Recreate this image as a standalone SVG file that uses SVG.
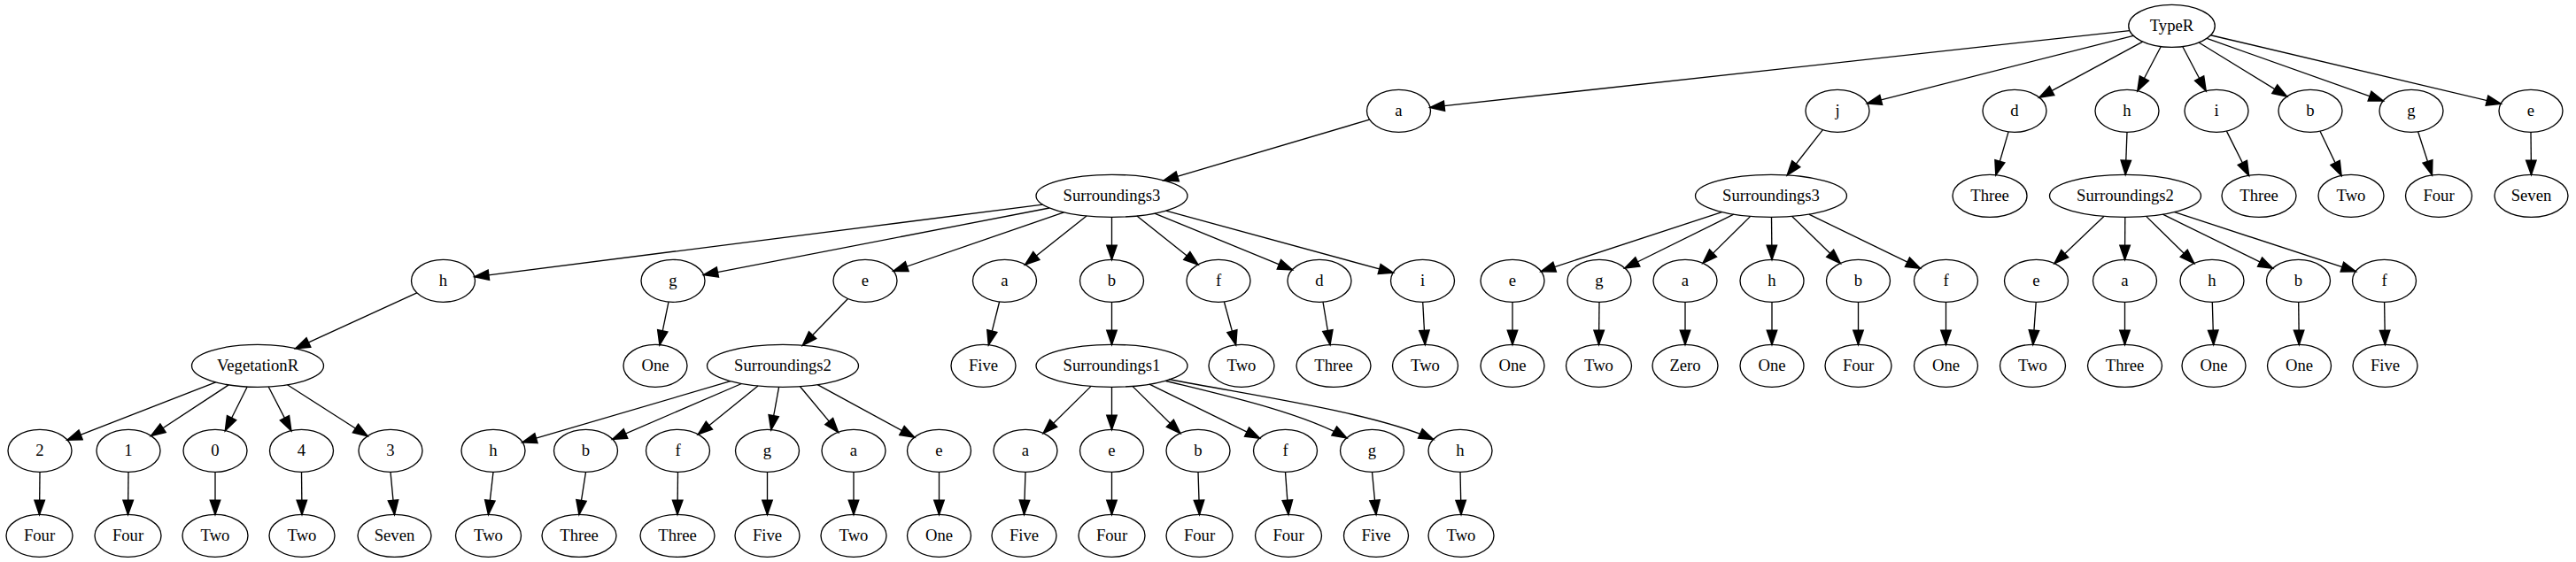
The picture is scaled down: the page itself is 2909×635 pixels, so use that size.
<svg xmlns="http://www.w3.org/2000/svg" width="2909" height="635" viewBox="0 0 2909 635">
<style>
.node ellipse{fill:none;stroke:#000;stroke-width:1.33}
.node text{font-family:"Liberation Serif","Times New Roman",serif;font-size:18.67px;text-anchor:middle;fill:#000}
#edges path{fill:none;stroke:#000;stroke-width:1.33;marker-end:url(#ah)}
</style>
<defs>
<marker id="ah" markerUnits="userSpaceOnUse" markerWidth="16" markerHeight="12" viewBox="0 0 13.33 9.33" refX="13.33" refY="4.67" orient="auto" overflow="visible">
<path d="M0,0 L13.33,4.67 L0,9.33 Z" fill="#000" stroke="#000" stroke-width="1.33"/>
</marker>
</defs>
<rect width="2909" height="635" fill="#fff"/>
<g id="edges">
<path d="M2404.9,34.56 L1615.0,121.4"/>
<path d="M2409.2,40.34 L2108.6,116.8"/>
<path d="M2419.7,47.08 L2303.0,110.2"/>
<path d="M2440.3,52.56 L2413.9,102.7"/>
<path d="M2464.7,52.56 L2491.1,102.7"/>
<path d="M2483.0,48.05 L2582.5,109.1"/>
<path d="M2492.1,43.37 L2691.2,114.05"/>
<path d="M2496.4,39.73 L2824.1,117.3"/>
<path d="M1546.6,135.1 L1314.3,203.9"/>
<path d="M2058.4,146.6 L2018.3,197.9"/>
<path d="M2268.1,148.9 L2253.9,197.7"/>
<path d="M2402,149.33 L2400.2,197.33"/>
<path d="M2514.4,148.1 L2539.5,198.25"/>
<path d="M2620.0,148.2 L2644.0,198.4"/>
<path d="M2730.6,148.8 L2746.4,197.8"/>
<path d="M2858,149.33 L2858.5,197.33"/>
<path d="M1177.6,231.2 L535.9,312.8"/>
<path d="M1185.1,235.0 L794.6,310.6"/>
<path d="M1201.5,239.9 L1009.0,306.3"/>
<path d="M1227.0,244.0 L1157.7,299.0"/>
<path d="M1255.5,245.33 L1255.5,293.33"/>
<path d="M1283.9,244.0 L1352.9,298.9"/>
<path d="M1303.9,241.1 L1459.3,304.8"/>
<path d="M1316.7,238.1 L1573.2,308.2"/>
<path d="M1944.5,239.6 L1740.3,306.7"/>
<path d="M1957.8,242.2 L1834.9,303.0"/>
<path d="M1976.7,244.4 L1923.1,297.4"/>
<path d="M2000.5,245.33 L2001,293.33"/>
<path d="M2023.7,244.4 L2078.2,297.5"/>
<path d="M2042.8,242.1 L2168.4,303.2"/>
<path d="M2375.9,244.4 L2320.1,297.65"/>
<path d="M2399.8,245.33 L2399.5,293.33"/>
<path d="M2423.6,244.4 L2477.7,297.5"/>
<path d="M2442.4,242.2 L2566.5,303.1"/>
<path d="M2455.6,239.6 L2660.2,306.7"/>
<path d="M470.8,330.9 L333.8,393.7"/>
<path d="M755.0,341.1 L745.0,389.6"/>
<path d="M957.5,337.5 L906.4,390.2"/>
<path d="M1128.6,341.0 L1116.4,389.7"/>
<path d="M1255.5,341.33 L1255.5,389.33"/>
<path d="M1382.4,341.0 L1395.6,389.7"/>
<path d="M1494.0,341.2 L1502.0,389.4"/>
<path d="M1606.7,341.33 L1609.3,389.33"/>
<path d="M1708,341.33 L1708,389.33"/>
<path d="M1806,341.33 L1805.5,389.33"/>
<path d="M1903,341.33 L1903,389.33"/>
<path d="M2001,341.33 L2001,389.33"/>
<path d="M2098.5,341.33 L2098.5,389.33"/>
<path d="M2197.5,341.33 L2197.5,389.33"/>
<path d="M2299.2,341.33 L2295.8,389.33"/>
<path d="M2399.5,341.33 L2399.5,389.33"/>
<path d="M2498.3,341.33 L2499.7,389.33"/>
<path d="M2595.7,341.33 L2596.3,389.33"/>
<path d="M2692.6,341.33 L2693.4,389.33"/>
<path d="M243.6,431.8 L76.1,497.2"/>
<path d="M258.2,434.9 L170.6,492.5"/>
<path d="M279.2,437.0 L254.4,486.6"/>
<path d="M303.2,437.0 L328.8,486.6"/>
<path d="M324.5,434.8 L415.0,492.7"/>
<path d="M824.9,430.7 L590.0,499.7"/>
<path d="M837.4,433.5 L691.7,496.3"/>
<path d="M856.0,436.0 L788.4,490.8"/>
<path d="M879.6,437.3 L870.8,485.5"/>
<path d="M903.5,436.7 L946.5,488.35"/>
<path d="M923.2,434.7 L1032.6,494.2"/>
<path d="M1232.1,436.4 L1178.2,489.5"/>
<path d="M1255.5,437.33 L1255.5,485.33"/>
<path d="M1278.9,436.4 L1332.8,489.5"/>
<path d="M1298.0,434.2 L1422.5,495.1"/>
<path d="M1316.5,430.5 C1380,446 1470,466 1520.7,494.9"/>
<path d="M1320,428.5 C1420,448 1550,466 1618.6,496.4"/>
<path d="M45,533.33 L44.5,581.33"/>
<path d="M145,533.33 L144.5,581.33"/>
<path d="M243,533.33 L243,581.33"/>
<path d="M340.5,533.33 L341,581.33"/>
<path d="M441,533.33 L445.5,581.33"/>
<path d="M557,533.33 L551.5,581.33"/>
<path d="M661.5,533.33 L654,581.33"/>
<path d="M765.5,533.33 L765,581.33"/>
<path d="M866.5,533.33 L866.5,581.33"/>
<path d="M964,533.33 L964,581.33"/>
<path d="M1060.5,533.33 L1060.5,581.33"/>
<path d="M1158,533.33 L1156.5,581.33"/>
<path d="M1255.5,533.33 L1255.5,581.33"/>
<path d="M1353,533.33 L1354.5,581.33"/>
<path d="M1451.5,533.33 L1455,581.33"/>
<path d="M1549.5,533.33 L1554,581.33"/>
<path d="M1649,533.33 L1650,581.33"/>
</g>
<g id="n0" class="node"><ellipse cx="2452.5" cy="29.33" rx="48.75" ry="24"/><text x="2452.5" y="34.93">TypeR</text></g>
<g id="n1" class="node"><ellipse cx="1579.5" cy="125.33" rx="36" ry="24"/><text x="1579.5" y="130.93">a</text></g>
<g id="n2" class="node"><ellipse cx="2075" cy="125.33" rx="36" ry="24"/><text x="2075" y="130.93">j</text></g>
<g id="n3" class="node"><ellipse cx="2275" cy="125.33" rx="36" ry="24"/><text x="2275" y="130.93">d</text></g>
<g id="n4" class="node"><ellipse cx="2402" cy="125.33" rx="36" ry="24"/><text x="2402" y="130.93">h</text></g>
<g id="n5" class="node"><ellipse cx="2503" cy="125.33" rx="36" ry="24"/><text x="2503" y="130.93">i</text></g>
<g id="n6" class="node"><ellipse cx="2609" cy="125.33" rx="36" ry="24"/><text x="2609" y="130.93">b</text></g>
<g id="n7" class="node"><ellipse cx="2723" cy="125.33" rx="36" ry="24"/><text x="2723" y="130.93">g</text></g>
<g id="n8" class="node"><ellipse cx="2858" cy="125.33" rx="36" ry="24"/><text x="2858" y="130.93">e</text></g>
<g id="n9" class="node"><ellipse cx="1255.5" cy="221.33" rx="85.5" ry="24"/><text x="1255.5" y="226.93">Surroundings3</text></g>
<g id="n10" class="node"><ellipse cx="2000" cy="221.33" rx="85.5" ry="24"/><text x="2000" y="226.93">Surroundings3</text></g>
<g id="n11" class="node"><ellipse cx="2247" cy="221.33" rx="42" ry="24"/><text x="2247" y="226.93">Three</text></g>
<g id="n12" class="node"><ellipse cx="2400" cy="221.33" rx="85.5" ry="24"/><text x="2400" y="226.93">Surroundings2</text></g>
<g id="n13" class="node"><ellipse cx="2551" cy="221.33" rx="42" ry="24"/><text x="2551" y="226.93">Three</text></g>
<g id="n14" class="node"><ellipse cx="2655" cy="221.33" rx="37" ry="24"/><text x="2655" y="226.93">Two</text></g>
<g id="n15" class="node"><ellipse cx="2754" cy="221.33" rx="37.5" ry="24"/><text x="2754" y="226.93">Four</text></g>
<g id="n16" class="node"><ellipse cx="2858.5" cy="221.33" rx="41.5" ry="24"/><text x="2858.5" y="226.93">Seven</text></g>
<g id="n17" class="node"><ellipse cx="500.5" cy="317.33" rx="36" ry="24"/><text x="500.5" y="322.93">h</text></g>
<g id="n18" class="node"><ellipse cx="760" cy="317.33" rx="36" ry="24"/><text x="760" y="322.93">g</text></g>
<g id="n19" class="node"><ellipse cx="977" cy="317.33" rx="36" ry="24"/><text x="977" y="322.93">e</text></g>
<g id="n20" class="node"><ellipse cx="1134.5" cy="317.33" rx="36" ry="24"/><text x="1134.5" y="322.93">a</text></g>
<g id="n21" class="node"><ellipse cx="1255.5" cy="317.33" rx="36" ry="24"/><text x="1255.5" y="322.93">b</text></g>
<g id="n22" class="node"><ellipse cx="1376" cy="317.33" rx="36" ry="24"/><text x="1376" y="322.93">f</text></g>
<g id="n23" class="node"><ellipse cx="1490" cy="317.33" rx="36" ry="24"/><text x="1490" y="322.93">d</text></g>
<g id="n24" class="node"><ellipse cx="1606.5" cy="317.33" rx="36" ry="24"/><text x="1606.5" y="322.93">i</text></g>
<g id="n25" class="node"><ellipse cx="1708" cy="317.33" rx="36" ry="24"/><text x="1708" y="322.93">e</text></g>
<g id="n26" class="node"><ellipse cx="1806" cy="317.33" rx="36" ry="24"/><text x="1806" y="322.93">g</text></g>
<g id="n27" class="node"><ellipse cx="1903" cy="317.33" rx="36" ry="24"/><text x="1903" y="322.93">a</text></g>
<g id="n28" class="node"><ellipse cx="2001" cy="317.33" rx="36" ry="24"/><text x="2001" y="322.93">h</text></g>
<g id="n29" class="node"><ellipse cx="2098.5" cy="317.33" rx="36" ry="24"/><text x="2098.5" y="322.93">b</text></g>
<g id="n30" class="node"><ellipse cx="2197.5" cy="317.33" rx="36" ry="24"/><text x="2197.5" y="322.93">f</text></g>
<g id="n31" class="node"><ellipse cx="2299.5" cy="317.33" rx="36" ry="24"/><text x="2299.5" y="322.93">e</text></g>
<g id="n32" class="node"><ellipse cx="2399.5" cy="317.33" rx="36" ry="24"/><text x="2399.5" y="322.93">a</text></g>
<g id="n33" class="node"><ellipse cx="2498" cy="317.33" rx="36" ry="24"/><text x="2498" y="322.93">h</text></g>
<g id="n34" class="node"><ellipse cx="2595.5" cy="317.33" rx="36" ry="24"/><text x="2595.5" y="322.93">b</text></g>
<g id="n35" class="node"><ellipse cx="2692.5" cy="317.33" rx="36" ry="24"/><text x="2692.5" y="322.93">f</text></g>
<g id="n36" class="node"><ellipse cx="291" cy="413.33" rx="74.5" ry="24"/><text x="291" y="418.93">VegetationR</text></g>
<g id="n37" class="node"><ellipse cx="740" cy="413.33" rx="36" ry="24"/><text x="740" y="418.93">One</text></g>
<g id="n38" class="node"><ellipse cx="884" cy="413.33" rx="85.5" ry="24"/><text x="884" y="418.93">Surroundings2</text></g>
<g id="n39" class="node"><ellipse cx="1110.5" cy="413.33" rx="36.5" ry="24"/><text x="1110.5" y="418.93">Five</text></g>
<g id="n40" class="node"><ellipse cx="1255.5" cy="413.33" rx="85.5" ry="24"/><text x="1255.5" y="418.93">Surroundings1</text></g>
<g id="n41" class="node"><ellipse cx="1402" cy="413.33" rx="37" ry="24"/><text x="1402" y="418.93">Two</text></g>
<g id="n42" class="node"><ellipse cx="1506" cy="413.33" rx="42" ry="24"/><text x="1506" y="418.93">Three</text></g>
<g id="n43" class="node"><ellipse cx="1609.5" cy="413.33" rx="37" ry="24"/><text x="1609.5" y="418.93">Two</text></g>
<g id="n44" class="node"><ellipse cx="1708" cy="413.33" rx="36" ry="24"/><text x="1708" y="418.93">One</text></g>
<g id="n45" class="node"><ellipse cx="1805.5" cy="413.33" rx="37" ry="24"/><text x="1805.5" y="418.93">Two</text></g>
<g id="n46" class="node"><ellipse cx="1903" cy="413.33" rx="37" ry="24"/><text x="1903" y="418.93">Zero</text></g>
<g id="n47" class="node"><ellipse cx="2001" cy="413.33" rx="36" ry="24"/><text x="2001" y="418.93">One</text></g>
<g id="n48" class="node"><ellipse cx="2098.5" cy="413.33" rx="37.5" ry="24"/><text x="2098.5" y="418.93">Four</text></g>
<g id="n49" class="node"><ellipse cx="2197.5" cy="413.33" rx="36" ry="24"/><text x="2197.5" y="418.93">One</text></g>
<g id="n50" class="node"><ellipse cx="2295.5" cy="413.33" rx="37" ry="24"/><text x="2295.5" y="418.93">Two</text></g>
<g id="n51" class="node"><ellipse cx="2399.5" cy="413.33" rx="42" ry="24"/><text x="2399.5" y="418.93">Three</text></g>
<g id="n52" class="node"><ellipse cx="2500" cy="413.33" rx="36" ry="24"/><text x="2500" y="418.93">One</text></g>
<g id="n53" class="node"><ellipse cx="2596.5" cy="413.33" rx="36" ry="24"/><text x="2596.5" y="418.93">One</text></g>
<g id="n54" class="node"><ellipse cx="2693.5" cy="413.33" rx="36.5" ry="24"/><text x="2693.5" y="418.93">Five</text></g>
<g id="n55" class="node"><ellipse cx="45" cy="509.33" rx="36" ry="24"/><text x="45" y="514.93">2</text></g>
<g id="n56" class="node"><ellipse cx="145" cy="509.33" rx="36" ry="24"/><text x="145" y="514.93">1</text></g>
<g id="n57" class="node"><ellipse cx="243" cy="509.33" rx="36" ry="24"/><text x="243" y="514.93">0</text></g>
<g id="n58" class="node"><ellipse cx="340.5" cy="509.33" rx="36" ry="24"/><text x="340.5" y="514.93">4</text></g>
<g id="n59" class="node"><ellipse cx="441" cy="509.33" rx="36" ry="24"/><text x="441" y="514.93">3</text></g>
<g id="n60" class="node"><ellipse cx="557" cy="509.33" rx="36" ry="24"/><text x="557" y="514.93">h</text></g>
<g id="n61" class="node"><ellipse cx="661.5" cy="509.33" rx="36" ry="24"/><text x="661.5" y="514.93">b</text></g>
<g id="n62" class="node"><ellipse cx="765.5" cy="509.33" rx="36" ry="24"/><text x="765.5" y="514.93">f</text></g>
<g id="n63" class="node"><ellipse cx="866.5" cy="509.33" rx="36" ry="24"/><text x="866.5" y="514.93">g</text></g>
<g id="n64" class="node"><ellipse cx="964" cy="509.33" rx="36" ry="24"/><text x="964" y="514.93">a</text></g>
<g id="n65" class="node"><ellipse cx="1060.5" cy="509.33" rx="36" ry="24"/><text x="1060.5" y="514.93">e</text></g>
<g id="n66" class="node"><ellipse cx="1158" cy="509.33" rx="36" ry="24"/><text x="1158" y="514.93">a</text></g>
<g id="n67" class="node"><ellipse cx="1255.5" cy="509.33" rx="36" ry="24"/><text x="1255.5" y="514.93">e</text></g>
<g id="n68" class="node"><ellipse cx="1353" cy="509.33" rx="36" ry="24"/><text x="1353" y="514.93">b</text></g>
<g id="n69" class="node"><ellipse cx="1451.5" cy="509.33" rx="36" ry="24"/><text x="1451.5" y="514.93">f</text></g>
<g id="n70" class="node"><ellipse cx="1549.5" cy="509.33" rx="36" ry="24"/><text x="1549.5" y="514.93">g</text></g>
<g id="n71" class="node"><ellipse cx="1649" cy="509.33" rx="36" ry="24"/><text x="1649" y="514.93">h</text></g>
<g id="n72" class="node"><ellipse cx="44.5" cy="605.33" rx="37.5" ry="24"/><text x="44.5" y="610.93">Four</text></g>
<g id="n73" class="node"><ellipse cx="144.5" cy="605.33" rx="37.5" ry="24"/><text x="144.5" y="610.93">Four</text></g>
<g id="n74" class="node"><ellipse cx="243" cy="605.33" rx="37" ry="24"/><text x="243" y="610.93">Two</text></g>
<g id="n75" class="node"><ellipse cx="341" cy="605.33" rx="37" ry="24"/><text x="341" y="610.93">Two</text></g>
<g id="n76" class="node"><ellipse cx="445.5" cy="605.33" rx="41.5" ry="24"/><text x="445.5" y="610.93">Seven</text></g>
<g id="n77" class="node"><ellipse cx="551.5" cy="605.33" rx="37" ry="24"/><text x="551.5" y="610.93">Two</text></g>
<g id="n78" class="node"><ellipse cx="654" cy="605.33" rx="42" ry="24"/><text x="654" y="610.93">Three</text></g>
<g id="n79" class="node"><ellipse cx="765" cy="605.33" rx="42" ry="24"/><text x="765" y="610.93">Three</text></g>
<g id="n80" class="node"><ellipse cx="866.5" cy="605.33" rx="36.5" ry="24"/><text x="866.5" y="610.93">Five</text></g>
<g id="n81" class="node"><ellipse cx="964" cy="605.33" rx="37" ry="24"/><text x="964" y="610.93">Two</text></g>
<g id="n82" class="node"><ellipse cx="1060.5" cy="605.33" rx="36" ry="24"/><text x="1060.5" y="610.93">One</text></g>
<g id="n83" class="node"><ellipse cx="1156.5" cy="605.33" rx="36.5" ry="24"/><text x="1156.5" y="610.93">Five</text></g>
<g id="n84" class="node"><ellipse cx="1255.5" cy="605.33" rx="37.5" ry="24"/><text x="1255.5" y="610.93">Four</text></g>
<g id="n85" class="node"><ellipse cx="1354.5" cy="605.33" rx="37.5" ry="24"/><text x="1354.5" y="610.93">Four</text></g>
<g id="n86" class="node"><ellipse cx="1455" cy="605.33" rx="37.5" ry="24"/><text x="1455" y="610.93">Four</text></g>
<g id="n87" class="node"><ellipse cx="1554" cy="605.33" rx="36.5" ry="24"/><text x="1554" y="610.93">Five</text></g>
<g id="n88" class="node"><ellipse cx="1650" cy="605.33" rx="37" ry="24"/><text x="1650" y="610.93">Two</text></g>
</svg>
